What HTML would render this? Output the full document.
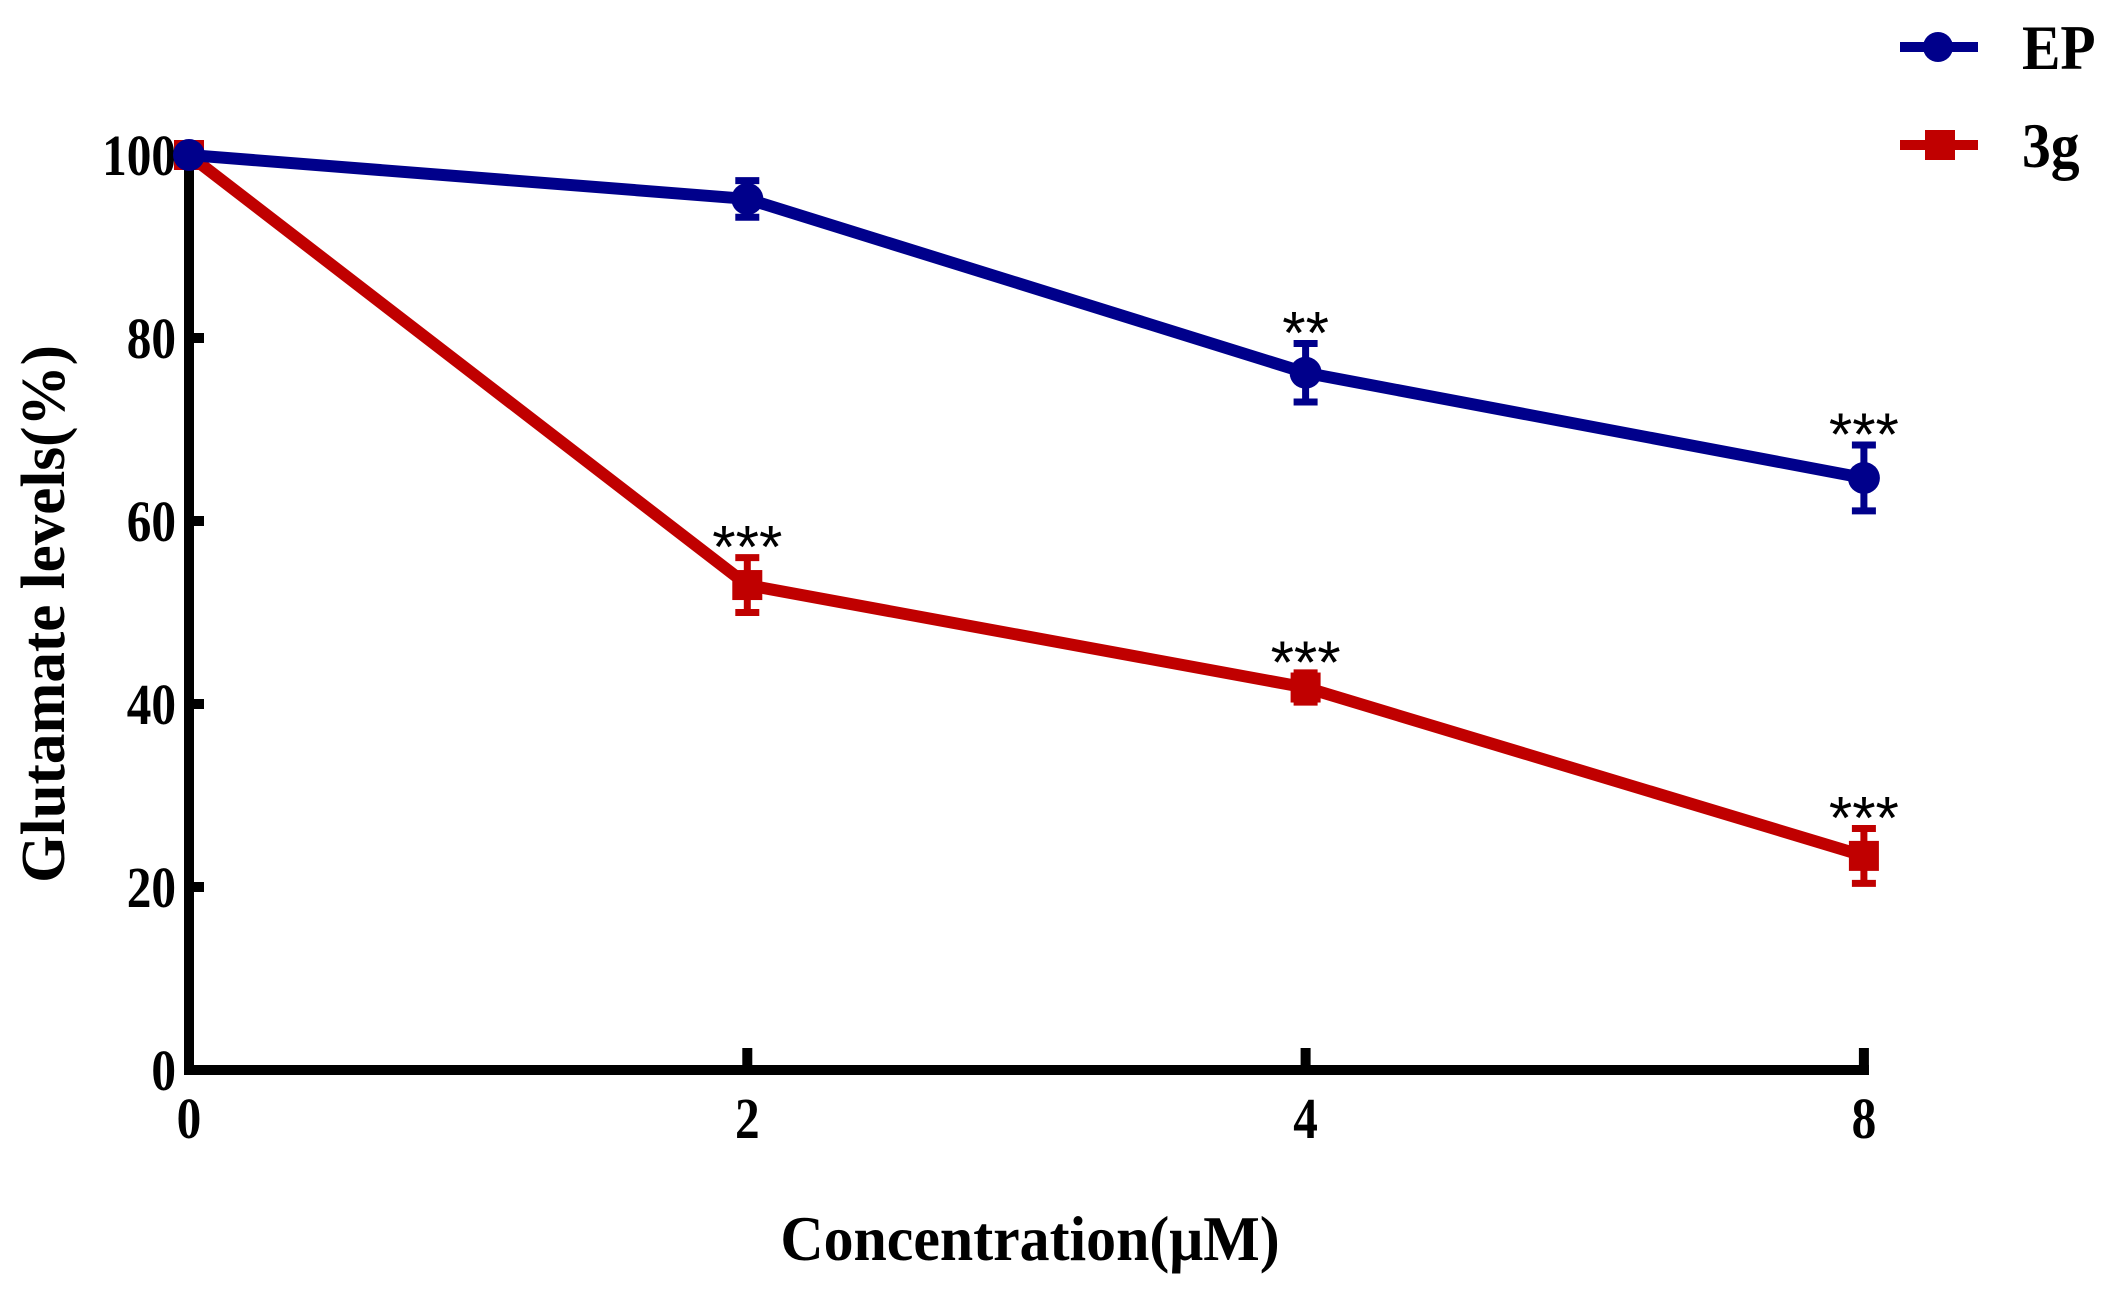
<!DOCTYPE html>
<html><head><meta charset="utf-8"><style>
html,body{margin:0;padding:0;background:#fff;width:2117px;height:1297px;overflow:hidden}
text{font-family:"Liberation Serif",serif;font-weight:bold}
</style></head><body>
<svg id="chart" width="2117" height="1297" xmlns="http://www.w3.org/2000/svg"></svg>
<script>
const categories = ["0","2","4","8"];
const epValues = [100, 95.2, 76.2, 64.7];
const epErrors = [0, 2, 3.2, 3.6];
const epStars = ["", "", "**", "***"];
const g3Values = [100, 53, 41.8, 23.4];
const g3Errors = [0, 3, 1.6, 3];
const g3Stars = ["", "***", "***", "***"];
const yTicks = [0, 20, 40, 60, 80, 100];

const svg = document.getElementById('chart');
const NS = 'http://www.w3.org/2000/svg';
const x0 = 189, dx = 558.3, yBase = 1070, yTop = 155;
function xs(i){ return x0 + i*dx; }
function ys(v){ return yBase - (yBase-yTop)*v/100; }
function mk(tag, attrs, parent){
  const e = document.createElementNS(NS, tag);
  for (const k in attrs) e.setAttribute(k, attrs[k]);
  (parent||svg).appendChild(e);
  return e;
}

const yAxis = mk('line',{x1:x0,y1:yTop-5,x2:x0,y2:yBase+5,stroke:'#000','stroke-width':10});


const xAxis = mk('line',{x1:x0-5,y1:yBase,x2:xs(3)+5,y2:yBase,stroke:'#000','stroke-width':10});



yTicks.forEach(v=>{
  const y = ys(v);
  if (v>0 && v<100){
    const t = mk('line',{x1:x0,y1:y,x2:x0+15,y2:y,stroke:'#000','stroke-width':10});
    
    
  }
  const l = mk('text',{x:0,y:0,'text-anchor':'end','font-size':58,transform:'translate(176,'+(y+20)+') scale(0.85,1)'});
  l.textContent = v;
  
  
});
categories.forEach((c,i)=>{
  const x = xs(i);
  if (i>0){
    const t = mk('line',{x1:x,y1:yBase-22,x2:x,y2:yBase+5,stroke:'#000','stroke-width':10});
    
    
  }
  const l = mk('text',{x:0,y:0,'text-anchor':'middle','font-size':58,transform:'translate('+x+',1138) scale(0.85,1)'});
  l.textContent = c;
  
  
});

const xt = mk('text',{x:0,y:0,'text-anchor':'middle','font-size':63,transform:'translate(1030,1260) scale(0.95,1)'});
xt.textContent = 'Concentration(μM)';


const yt = mk('text',{x:0,y:0,'text-anchor':'middle','font-size':63,transform:'translate(64,614) rotate(-90) scale(0.97,1)'});
yt.textContent = 'Glutamate levels(%)';



function series(vals, errs, stars, color, shape, name){
  const pts = vals.map((v,i)=>xs(i)+','+ys(v)).join(' ');
  const line = mk('polyline',{points:pts,fill:'none',stroke:color,'stroke-width':12,'stroke-linejoin':'round'});
  
  
  vals.forEach((v,i)=>{
    const x = xs(i), y = ys(v), e = errs[i]*(yBase-yTop)/100;
    if (errs[i]>0){
      const g = mk('g',{stroke:color,'stroke-width':7});
      
      
      mk('line',{x1:x,y1:y-e,x2:x,y2:y+e},g);
      mk('line',{x1:x-12,y1:y-e,x2:x+12,y2:y-e},g);
      mk('line',{x1:x-12,y1:y+e,x2:x+12,y2:y+e},g);
    }
    let m;
    if (shape==='circle') m = mk('circle',{cx:x,cy:y,r:16,fill:color});
    else m = mk('rect',{x:x-15,y:y-15,width:30,height:30,fill:color});
    
    
    if (stars[i]){
      const s = mk('text',{x:x,y:y-e+10,'text-anchor':'middle','font-size':60,style:'font-family:"Liberation Sans",sans-serif;font-weight:normal'});
      s.textContent = stars[i];
      
      
    }
  });
}
series(g3Values,g3Errors,g3Stars,'#c00000','square','3g');
series(epValues,epErrors,epStars,'#00008b','circle','ep');

function legend(y,color,shape,label,name){
  const g = mk('g',{});
  
  
  mk('line',{x1:1900,y1:y,x2:1978,y2:y,stroke:color,'stroke-width':10},g);
  if (shape==='circle') mk('circle',{cx:1938,cy:y,r:15,fill:color},g);
  else mk('rect',{x:1925,y:y-15,width:30,height:30,fill:color},g);
  const t = mk('text',{x:0,y:0,'font-size':64,transform:'translate(2022,'+(y+22)+') scale(0.9,1)'},g);
  t.textContent = label;
}
legend(47,'#00008b','circle','EP','legend-entry-ep');
legend(145,'#c00000','square','3g','legend-entry-3g');
</script>
</body></html>
